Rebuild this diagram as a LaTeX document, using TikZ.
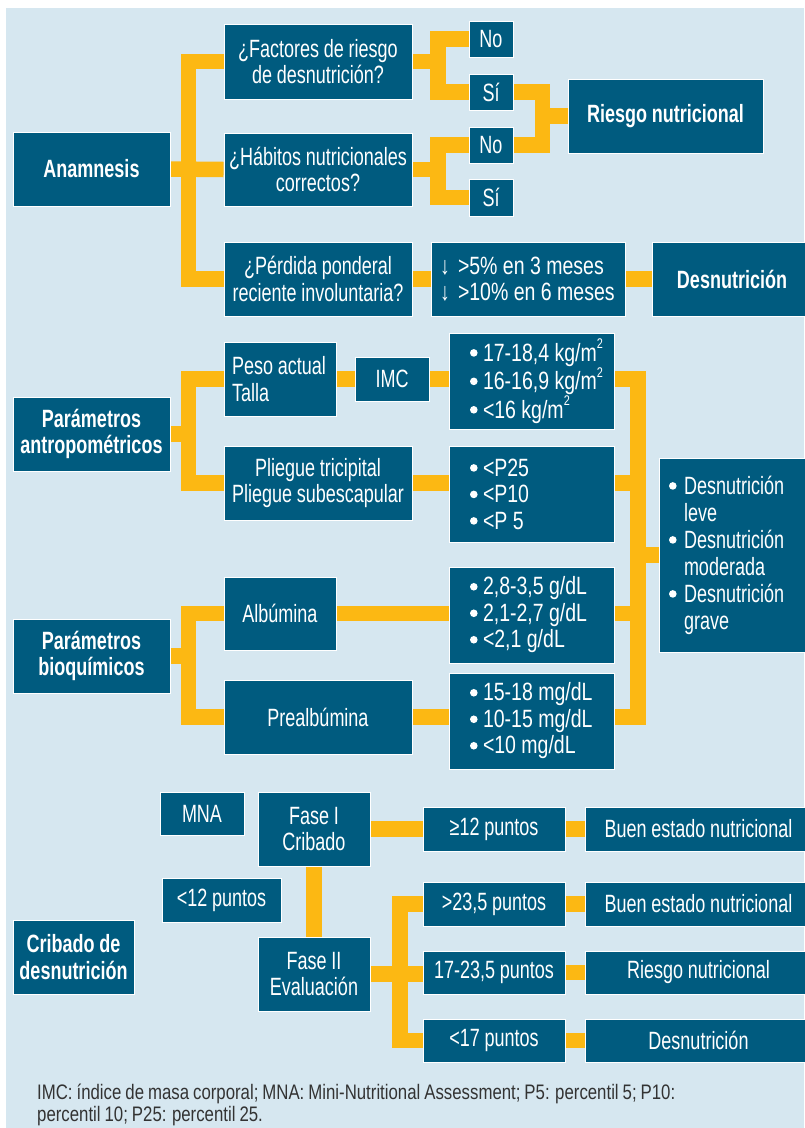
\documentclass[tikz,border=0pt]{standalone}
\usepackage{graphicx}
\usepackage{fontspec}
\setmainfont[FakeStretch=0.72,WordSpace=0.95]{Liberation Sans}
\newfontfamily\listf[FakeStretch=0.78,WordSpace=1]{Liberation Sans}
\newfontfamily\footf[FakeStretch=0.8,WordSpace=0.85]{Liberation Sans}
\usetikzlibrary{backgrounds}
\definecolor{boxc}{HTML}{005B7F}
\definecolor{bgc}{HTML}{D6E7F0}
\definecolor{yel}{HTML}{FCB813}
\definecolor{foottxt}{HTML}{333333}
\newcommand\fs{\fontsize{25}{26.5}\selectfont}
\newcommand\lfs{\listf\fontsize{25}{26.5}\selectfont}
\newcommand\ns{\spaceskip=0pt\xspaceskip=0pt\relax}
\newcommand\bul{\makebox[13pt][l]{\tikz[baseline=0pt]\fill[white] (3.8pt,8.2pt) circle (3.8pt);}}
\newcommand\bulw{\makebox[15pt][l]{\tikz[baseline=0pt]\fill[white] (3.8pt,8.2pt) circle (3.8pt);}}
\newcommand\ind{\hspace*{15pt}}
\newcommand\sq{\raisebox{0.5em}{\fontsize{14}{14}\selectfont 2}}
\newcommand\dn{\makebox[18pt][l]{↓}}
\newcommand\bx[7][]{\node[box,minimum width={(#5-#3)*1pt},minimum height={(#6-#4)*1pt},#1] (#2) at ({(#3+#5)/2},{(#4+#6)/2}) {#7};}
\begin{document}
\begin{tikzpicture}[x=1pt,y=-1pt,
 box/.style={draw=white,line width=0.9pt,fill=boxc,text=white,inner sep=0pt,font=\fs,align=center},
 lbox/.style={box,align=left,font=\lfs},
 conn/.style={draw=yel,line width=15.5pt,line join=miter,line cap=butt}]
\useasboundingbox (0,0) rectangle (804,1128);
% Anamnesis
\bx{anam}{13}{132}{170}{206}{\bfseries Anamnesis}
\bx{fact}{224}{24}{412}{99}{¿Factores de riesgo\\de desnutrición?}
\bx{hab}{224}{133}{412}{206}{¿Hábitos nutricionales\\correctos?}
\bx{perd}{224}{242}{412}{316}{¿Pérdida ponderal\\reciente involuntaria?}
\bx{no1}{469}{21}{513}{57}{No}
\bx{si1}{469}{74}{513}{110}{Sí}
\bx{no2}{469}{127}{513}{163}{No}
\bx{si2}{469}{179}{513}{216}{Sí}
\bx{ries}{568}{79}{763}{153}{\bfseries Riesgo nutricional}
\bx[lbox,text width=176pt]{down}{431}{242}{625}{316}{\ns\mbox{\dn>5\% en 3 meses}\\\mbox{\dn>10\% en 6 meses}}
\bx{desn1}{652}{242}{812}{316}{\bfseries Desnutrición}
% Antropometricos
\bx{antro}{13}{397}{170}{471}{\bfseries Parámetros\\\bfseries antropométricos}
\bx[align=left,text width=96pt]{peso}{224}{342}{336}{416}{\ns\mbox{Peso actual}\\\mbox{Talla}}
\bx{imc}{355}{357}{429}{401}{IMC}
\bx{pli}{224}{446}{412}{520}{Pliegue tricipital\\Pliegue subescapular}
\bx[lbox,text width=123pt]{imcr}{449}{333}{614}{429}{\ns\mbox{\bul 17-18,4 kg/m\sq}\\\mbox{\bul 16-16,9 kg/m\sq}\\\mbox{\bul <16 kg/m\sq}}
\bx[lbox,text width=123pt]{plir}{449}{446}{614}{542}{\ns\mbox{\bul <P25}\\\mbox{\bul <P10}\\\mbox{\bul <P 5}}
% Bioquimicos
\bx{alb}{224}{577}{336}{650}{Albúmina}
\bx{bioq}{13}{619}{170}{693}{\bfseries Parámetros\\\bfseries bioquímicos}
\bx{preal}{224}{680}{412}{754}{Prealbúmina}
\bx[lbox,text width=123pt]{albr}{449}{567}{614}{663}{\ns\mbox{\bul 2,8-3,5 g/dL}\\\mbox{\bul 2,1-2,7 g/dL}\\\mbox{\bul <2,1 g/dL}}
\bx[lbox,text width=123pt]{prer}{449}{673}{614}{769}{\ns\mbox{\bul 15-18 mg/dL}\\\mbox{\bul 10-15 mg/dL}\\\mbox{\bul <10 mg/dL}}
\bx[align=left,text width=133pt,font=\fontsize{25}{27}\selectfont]{dl}{659}{458}{812}{652}{\ns\mbox{\bulw Desnutrición}\\\ind leve\\\mbox{\bulw Desnutrición}\\\ind moderada\\\mbox{\bulw Desnutrición}\\\ind grave}
% Cribado
\bx{mna}{160}{792}{244}{835}{MNA}
\bx{f1}{258}{792}{370}{866}{Fase I\\Cribado}
\bx{l12}{162}{878}{281}{922}{<12 puntos}
\bx{crib}{13}{920}{134}{994}{\bfseries Cribado de\\\bfseries desnutrición}
\bx{f2}{258}{937}{370}{1011}{Fase II\\Evaluación}
\bx{ge12}{423}{807}{565}{851}{≥12 puntos}
\bx{buen1}{585}{807}{812}{851}{Buen estado nutricional}
\bx{g235}{423}{882}{565}{926}{>23,5 puntos}
\bx{buen2}{585}{882}{812}{926}{Buen estado nutricional}
\bx{r1723}{423}{951}{565}{994}{17-23,5 puntos}
\bx{ries2}{585}{951}{812}{994}{Riesgo nutricional}
\bx{l17}{423}{1019}{565}{1062}{<17 puntos}
\bx{desn2}{585}{1019}{812}{1062}{Desnutrición}
\node[font=\footf\fontsize{21}{22}\selectfont,text=foottxt,align=left,anchor=north west,inner sep=0pt] (foot) at (37,1084) {IMC: índice de masa corporal; MNA: Mini-Nutritional Assessment; P5: percentil 5; P10:\\percentil 10; P25: percentil 25.};
\coordinate (b1) at (188.5,0);
\coordinate (b2) at (438,0);
\coordinate (b3) at (542.5,0);
\coordinate (b4) at (638,0);
\coordinate (b5) at (400,0);
\begin{scope}[on background layer]
\fill[white] (0,0) rectangle (804,1128);
\fill[bgc] (6,8) rectangle (804,1128);
% anamnesis
\draw[conn] (fact.west) -- (fact.west -| b1) -- (perd.west -| b1) -- (perd.west);
\draw[conn] (anam.east) -- (hab.west);
\draw[conn] (fact.east) -- (fact.east -| b2);
\draw[conn] (no1.west) -- (no1.west -| b2) -- (si1.west -| b2) -- (si1.west);
\draw[conn] (hab.east) -- (hab.east -| b2);
\draw[conn] (no2.west) -- (no2.west -| b2) -- (si2.west -| b2) -- (si2.west);
\draw[conn] (si1.east) -- (si1.east -| b3) -- (no2.east -| b3) -- (no2.east);
\draw[conn] (ries.west -| b3) -- (ries.west);
\draw[conn] (perd.east) -- (down.west);
\draw[conn] (down.east) -- (desn1.west);
% antropometricos
\draw[conn] (peso.west) -- (peso.west -| b1) -- (pli.west -| b1) -- (pli.west);
\draw[conn] (antro.east) -- (antro.east -| b1);
\draw[conn] (peso.east) -- (imc.west);
\draw[conn] (imc.east) -- (imc.east -| imcr.west);
\draw[conn] (pli.east) -- (pli.east -| plir.west);
\draw[conn] (alb.east) -- (alb.east -| albr.west);
\draw[conn] (preal.east) -- (preal.east -| prer.west);
\draw[conn] (imc.east -| imcr.east) -- (imc.east -| b4) -- (preal.east -| b4) -- (preal.east -| prer.east);
\draw[conn] (pli.east -| plir.east) -- (pli.east -| b4);
\draw[conn] (alb.east -| albr.east) -- (alb.east -| b4);
\draw[conn] (dl.west -| b4) -- (dl.west);
% bioquimicos
\draw[conn] (alb.west) -- (alb.west -| b1) -- (preal.west -| b1) -- (preal.west);
\draw[conn] (bioq.east) -- (bioq.east -| b1);
% cribado
\draw[conn] (f1.east) -- (ge12.west);
\draw[conn] (ge12.east) -- (buen1.west);
\draw[conn] (f1.south) -- (f2.north);
\draw[conn] (g235.west) -- (g235.west -| b5) -- (l17.west -| b5) -- (l17.west);
\draw[conn] (f2.east) -- (f2.east -| r1723.west);
\draw[conn] (g235.east) -- (buen2.west);
\draw[conn] (r1723.east) -- (ries2.west);
\draw[conn] (l17.east) -- (desn2.west);
\end{scope}
\end{tikzpicture}
\end{document}
